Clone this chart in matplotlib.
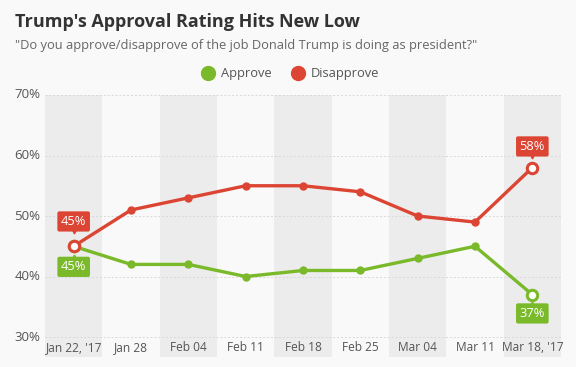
import matplotlib.pyplot as plt
import numpy as np

plt.rcParams['font.family'] = ['Open Sans', 'DejaVu Sans']

dates = ["Jan 22, '17", "Jan 28", "Feb 04", "Feb 11", "Feb 18",
         "Feb 25", "Mar 04", "Mar 11", "Mar 18, '17"]
approve = [45, 42, 42, 40, 41, 41, 43, 45, 37]
disapprove = [45, 51, 53, 55, 55, 54, 50, 49, 58]
yticks = [30, 40, 50, 60, 70]

green = '#7ab929'
red = '#dc4533'
bg = '#f9f9f9'
band = '#ececec'
txt = '#555555'

fig = plt.figure(figsize=(5.76, 3.67), dpi=100, facecolor=bg)
W, H = 576, 367
ax = fig.add_axes([45 / W, 10 / H, (561 - 45) / W, (357 - 95) / H])
ax.set_facecolor(bg)

x = np.arange(len(dates))
ax.set_xlim(-0.5, len(dates) - 0.5)
ax.set_ylim(26.7, 70)

# alternating bands
for i in x:
    if i % 2 == 0:
        ax.axvspan(i - 0.5, i + 0.5, color=band, zorder=0, lw=0)

# grid lines
for t in yticks:
    ax.axhline(t, color='#d8d8d8', lw=0.7, ls=(0, (2, 2)), zorder=1)
    ax.text(-0.58, t, f"{t}%", ha='right', va='center', fontsize=9.5, color=txt)

for i, d in enumerate(dates):
    ax.text(i, 28.3, d, ha='center', va='center', fontsize=8.6, color=txt)

for s in ax.spines.values():
    s.set_visible(False)
ax.set_xticks([])
ax.set_yticks([])

for vals, c in [(approve, green), (disapprove, red)]:
    ax.plot(x, vals, color=c, lw=2.4, zorder=3, solid_capstyle='round')
    ax.plot(x[1:-1], vals[1:-1], 'o', color=c, ms=5, zorder=4)
    ax.plot([x[0], x[-1]], [vals[0], vals[-1]], 'o', ms=7.5, mfc='white',
            mec=c, mew=2.2, zorder=5)

# value labels
def label(xi, yi, s, c, off):
    sign = 1 if off > 0 else -1
    ax.text(xi, yi + off, s, ha='center', va='center', fontsize=9.3,
            color='white', zorder=6,
            bbox=dict(boxstyle='round,pad=0.28,rounding_size=0.15', fc=c, ec='none'))
    ax.plot(xi, yi + off - sign * 1.6, marker='v' if sign > 0 else '^',
            color=c, ms=3.5, zorder=6)

label(0, disapprove[0], f"{disapprove[0]}%", red, 4.1)
label(0, approve[0], f"{approve[0]}%", green, -3.4)
label(8, disapprove[-1], f"{disapprove[-1]}%", red, 3.5)
label(8, approve[-1], f"{approve[-1]}%", green, -3.1)

# title, subtitle
fig.text(15 / W, 1 - 22 / H, "Trump's Approval Rating Hits New Low",
         fontsize=13, fontweight='bold', color='#333333', va='center')
fig.text(15 / W, 1 - 45 / H,
         '"Do you approve/disapprove of the job Donald Trump is doing as president?"',
         fontsize=9.3, color='#666666', va='center')

# legend
fig.lines.append(plt.Line2D([208 / W], [1 - 73 / H], marker='o', color=green, ms=10,
                            transform=fig.transFigure))
fig.text(221 / W, 1 - 73 / H, "Approve", fontsize=9.3, color=txt, va='center')
fig.lines.append(plt.Line2D([298 / W], [1 - 73 / H], marker='o', color=red, ms=10,
                            transform=fig.transFigure))
fig.text(311 / W, 1 - 73 / H, "Disapprove", fontsize=9.3, color=txt, va='center')

fig.savefig('out.png', dpi=100, facecolor=bg)
